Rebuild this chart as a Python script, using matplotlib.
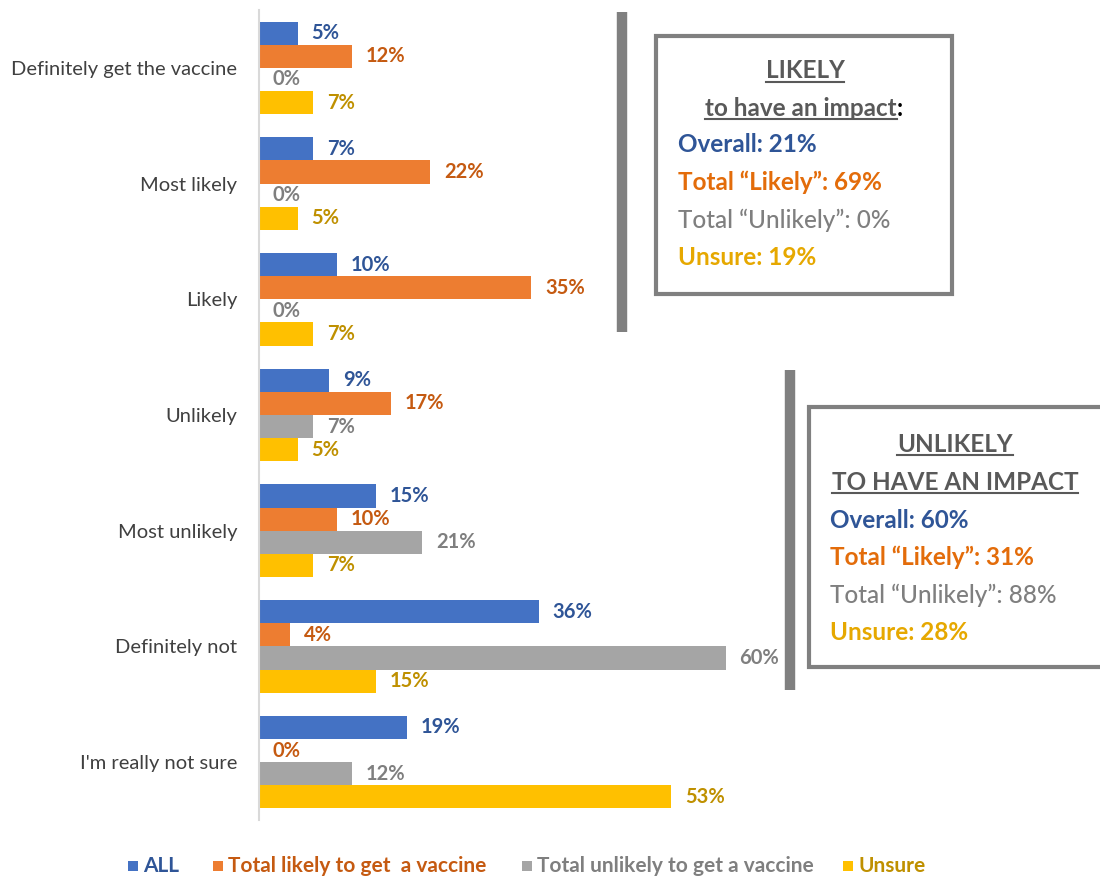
import numpy as np
import matplotlib
matplotlib.use("Agg")
import matplotlib.pyplot as plt
from matplotlib.patches import Rectangle
from matplotlib.lines import Line2D

plt.rcParams['font.family'] = ['Lato', 'DejaVu Sans']

# data
categories = ["Definitely get the vaccine", "Most likely", "Likely", "Unlikely",
              "Most unlikely", "Definitely not", "I'm really not sure"]
series_names = ["ALL", "Total likely to get  a vaccine",
                "Total unlikely to get a vaccine", "Unsure"]
all_vals = [5, 7, 10, 9, 15, 36, 19]
likely_vals = [12, 22, 35, 17, 10, 4, 0]
unlikely_vals = [0, 0, 0, 7, 21, 60, 12]
unsure_vals = [7, 5, 7, 5, 7, 15, 53]

box1_title = ["LIKELY", "to have an impact"]
box1_lines = ["Overall: 21%", "Total \u201cLikely\u201d: 69%",
              "Total \u201cUnlikely\u201d: 0%", "Unsure: 19%"]
box2_title = ["UNLIKELY", "TO HAVE AN IMPACT"]
box2_lines = ["Overall: 60%", "Total \u201cLikely\u201d: 31%",
              "Total \u201cUnlikely\u201d: 88%", "Unsure: 28%"]

bar_colors = ["#4472C4", "#ED7D31", "#A5A5A5", "#FFC000"]
label_colors = ["#2F5597", "#C55A11", "#7F7F7F", "#BF9000"]
box_text_colors = ["#2F5597", "#E36C0A", "#7F7F7F", "#E6A800"]

W, H = 1100, 877
fig = plt.figure(figsize=(W / 100, H / 100), dpi=100)

def fx(px):
    return px / W

def fy(py):
    return 1 - py / H

ax = fig.add_axes([fx(259), fy(820), fx(1100) - fx(259), fy(10) - fy(820)])

y = np.arange(len(categories))
h = 0.2
offsets = [-0.3, -0.1, 0.1, 0.3]
series = [all_vals, likely_vals, unlikely_vals, unsure_vals]
for vals, off, c, lc, name in zip(series, offsets, bar_colors, label_colors, series_names):
    ax.barh(y + off, vals, height=h, color=c, label=name)
    for yi, v in zip(y, vals):
        ax.text(v + 1.75, yi + off, f"{v}%", va="center", ha="left",
                fontsize=14.5, fontweight="bold", color=lc)

ax.set_xlim(0, 108.1)
ax.set_ylim(6.5, -0.5)
ax.set_yticks(y)
ax.set_yticklabels(categories, fontsize=14.5, color="#404040")
ax.tick_params(axis="y", length=0, pad=15.5)
ax.set_xticks([])
for s in ["top", "right", "bottom"]:
    ax.spines[s].set_visible(False)
ax.spines["left"].set_color("#D9D9D9")
ax.spines["left"].set_linewidth(1.5)

# vertical bracket lines
fig.add_artist(Line2D([fx(622), fx(622)], [fy(12), fy(332)], color="#808080", lw=7.5,
                      solid_capstyle="butt"))
fig.add_artist(Line2D([fx(790), fx(790)], [fy(370), fy(690)], color="#808080", lw=7.5,
                      solid_capstyle="butt"))

# boxes
fig.add_artist(Rectangle((fx(656), fy(294)), fx(952) - fx(656), fy(36) - fy(294),
                         transform=fig.transFigure, fill=True, facecolor="white",
                         edgecolor="#808080", lw=3))
fig.add_artist(Rectangle((fx(809), fy(667)), fx(1110) - fx(809), fy(407) - fy(667),
                         transform=fig.transFigure, fill=True, facecolor="white",
                         edgecolor="#808080", lw=3))

fs_box = 17.5
title_texts = []
t = fig.text(fx(805), fy(71), box1_title[0], ha="center", va="center",
             fontsize=fs_box, fontweight="bold", color="#595959")
title_texts.append(t)
t = fig.text(fx(801), fy(108), box1_title[1], ha="center", va="center",
             fontsize=fs_box, fontweight="bold", color="#595959")
title_texts.append(t)
colon = fig.text(0, fy(108), ":", ha="left", va="center",
                 fontsize=fs_box, fontweight="bold", color="black")
for i, line in enumerate(box1_lines):
    fig.text(fx(678), fy(145 + 37.5 * i), line, ha="left", va="center",
             fontsize=fs_box, fontweight="bold" if i != 2 else "medium",
             color=box_text_colors[i])

t = fig.text(fx(955), fy(444), box2_title[0], ha="center", va="center",
             fontsize=fs_box, fontweight="bold", color="#595959")
title_texts.append(t)
t = fig.text(fx(955), fy(482), box2_title[1], ha="center", va="center",
             fontsize=fs_box, fontweight="bold", color="#595959")
title_texts.append(t)
for i, line in enumerate(box2_lines):
    fig.text(fx(830), fy(520 + 37.5 * i), line, ha="left", va="center",
             fontsize=fs_box, fontweight="bold" if i != 2 else "medium",
             color=box_text_colors[i])

# legend (manual, to match spacing)
leg_sq_x = [128, 213, 522, 843]
for name, c, lc, sx in zip(series_names, bar_colors, label_colors, leg_sq_x):
    fig.add_artist(Rectangle((fx(sx), fy(871)), fx(10), 10 / H, transform=fig.transFigure,
                             facecolor=c, edgecolor="none"))
    fig.text(fx(sx + 15), fy(866), name, ha="left", va="center", fontsize=15,
             fontweight="bold", color=lc)

# underline titles
fig.canvas.draw()
r = fig.canvas.get_renderer()
for t in title_texts:
    bb = t.get_window_extent(r)
    fig.add_artist(Line2D([bb.x0 / W, bb.x1 / W], [(bb.y0 + 1) / H, (bb.y0 + 1) / H],
                          color="#595959", lw=1.5))
bb = title_texts[1].get_window_extent(r)
colon.set_x(bb.x1 / W)

fig.savefig("out.png", dpi=100)
